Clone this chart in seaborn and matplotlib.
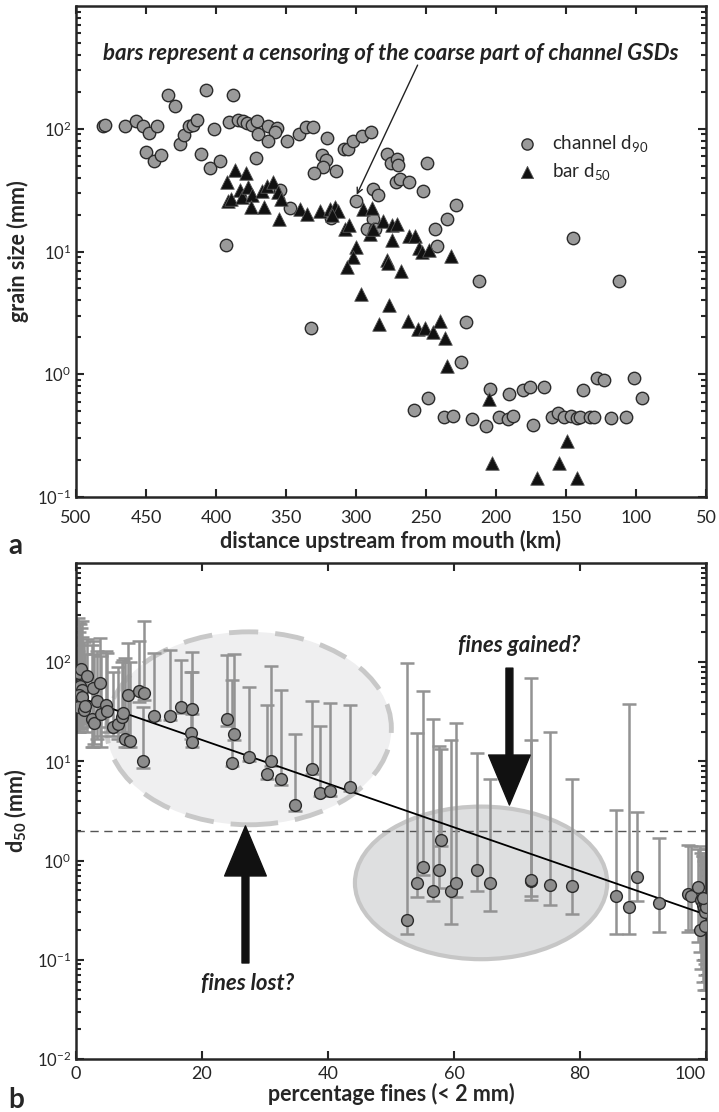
import numpy as np
import matplotlib
matplotlib.use("Agg")
import matplotlib.pyplot as plt
import seaborn as sns
from matplotlib.patches import Ellipse, FancyArrowPatch, ArrowStyle

# ---- panel a data: channel d90 (circles) and bar d50 (triangles) ----
ch_km = [480.5, 479.4, 465, 457, 452, 448, 442, 450, 444, 439, 434.5, 429, 426, 422.6,
         419, 416.7, 413.8, 411, 407, 404, 401.4, 397, 393, 390.5, 388, 384, 380.5, 377.6,
         374.5, 370.5, 369.8, 371.4, 362.6, 356.7, 357.9, 362.6, 354, 349.5, 347, 340.7,
         336, 331, 321, 324.5, 321.7, 323.3, 330, 314, 318, 332, 308.6, 305.5, 302.4, 296,
         289.3, 300, 288, 284, 288, 292.4, 286.4, 278, 275, 271, 270, 271.4, 268.6, 262,
         252, 249.5, 228.8, 234.8, 243.6, 242, 144.8, 212, 112, 221.4, 225, 258.3, 248.3,
         237, 231, 217.4, 207, 204.3, 197.6, 191.7, 188, 190.7, 181, 175.7, 173.4, 166,
         159.8, 155.5, 151.4, 146.7, 142.4, 140, 138, 132.9, 129.8, 128, 122.9, 118, 107.4,
         101.4, 96]
ch_d90 = [106, 108, 106, 115, 106, 93, 105, 65, 55, 61, 190, 153, 75, 89,
          106, 108, 117, 62, 205, 48, 100, 55, 11.2, 113, 190, 117, 115, 111,
          108, 115, 91, 58, 106, 101, 94, 79, 31.5, 79, 22.6, 91,
          103, 103, 84, 61, 56, 49, 44, 45, 18.9, 2.4, 68, 68, 79, 88,
          95, 25.6, 32.5, 29, 18.5, 15.4, 15.4, 62, 53, 57, 51, 37, 39, 37,
          31, 53, 23.8, 18.3, 15.4, 11.1, 12.9, 5.8, 5.8, 2.65, 1.27, 0.51, 0.645,
          0.45, 0.46, 0.43, 0.38, 0.76, 0.45, 0.43, 0.46, 0.69, 0.75, 0.79, 0.39, 0.79,
          0.45, 0.48, 0.45, 0.46, 0.44, 0.45, 0.75, 0.45, 0.45, 0.94, 0.90, 0.44, 0.45,
          0.94, 0.64]

bar_km = [386.4, 378.8, 392.4, 391.2, 389, 383, 381.6, 377, 374.5, 367.4, 363.8, 359,
          355.5, 353.8, 375, 366, 354.8, 340, 335, 325.7, 318.6, 315, 312.6, 317.4,
          307.9, 304.8, 295.2, 300, 302, 306.2, 290, 287.6, 288.8, 281, 274.5, 271,
          274.5, 278, 277, 268, 262, 258, 254.8, 253, 247.9, 232, 296.4, 276.2, 283.6,
          262.6, 256, 250.7, 245.2, 240, 236.4, 235.2, 204.8, 149, 203, 154.8, 171, 142]
bar_d50 = [46, 44, 37, 26, 27, 31.5, 27.8, 33.6, 28.7, 31, 34, 37,
           30.5, 27, 23, 23, 18.3, 22.4, 20.4, 21.3, 22, 23, 21.3, 20,
           15.2, 16.6, 22.4, 10.9, 9.1, 7.5, 14, 15.4, 22.6, 17.6, 16.6, 16.9,
           12.4, 8.5, 8.0, 7.0, 13.4, 13.4, 10.6, 10.0, 10.2, 9.2, 4.47, 3.66, 2.55,
           2.71, 2.32, 2.4, 2.22, 2.71, 1.96, 1.17, 0.63, 0.287, 0.19, 0.19, 0.143, 0.143]

# ---- panel b data: d50 vs percentage fines, with d50 ranges ----
pct = [0.3, 0.5, 0.8, 0.4, 0.7, 1.0, 0.5, 0.9, 0.3, 1.2, 1.5, 1.8, 2.7, 3.8, 3.4, 2.6,
       2.9, 3.9, 4.8, 5.0, 5.9, 6.7, 7.3, 7.5, 7.8, 8.6, 8.2, 10.0, 10.8, 10.6, 12.4,
       15.0, 16.6, 18.4, 18.2, 18.4, 23.9, 25.1, 24.7, 27.5, 30.3, 30.9, 32.5, 34.8,
       37.4, 38.8, 40.3, 43.5, 52.6, 54.2, 55.1, 56.6, 57.6, 58.0, 59.5, 60.3, 63.6,
       65.7, 72.2, 72.3, 75.3, 78.8, 85.7, 87.8, 89.1, 92.6, 97.2, 97.6, 98.8, 99.2,
       99.5, 99.7, 99.8, 99.9, 100.0, 99.0, 99.8, 99.6]
d50 = [82, 78, 85, 55, 57, 53, 47, 45, 35, 33, 36, 72, 55, 61, 41, 27,
       24.6, 30, 37, 32, 22.4, 23.6, 28, 30.5, 16.7, 16, 47, 51, 49, 10, 29,
       29, 35, 34, 19.5, 15.8, 26.5, 18.7, 9.7, 11.1, 7.4, 10.2, 6.6, 3.6,
       8.3, 4.8, 5.0, 5.5, 0.25, 0.59, 0.86, 0.49, 0.81, 1.63, 0.49, 0.60, 0.80,
       0.59, 0.62, 0.64, 0.57, 0.55, 0.44, 0.34, 0.69, 0.37, 0.46, 0.44, 0.54, 0.40,
       0.36, 0.33, 0.30, 0.38, 0.34, 0.20, 0.22, 0.42]
d50_lo = [24, 22, 26, 20, 21, 25, 20, 22, 21, 24, 26, 20, 14, 18, 17, 14,
          15, 14, 22, 20, 18, 17, 20, 16, 14, 14, 14, 40, 42, 8.5, 26,
          26, 31, 30, 17, 14, 23, 16.5, 9, 10, 6.6, 9, 5.8, 3.15,
          7.4, 4.5, 4.5, 5.0, 0.18, 0.43, 0.72, 0.39, 0.53, 1.4, 0.23, 0.43, 0.49,
          0.31, 0.44, 0.40, 0.36, 0.29, 0.18, 0.18, 0.39, 0.19, 0.19, 0.20, 0.15, 0.08,
          0.06, 0.05, 0.09, 0.07, 0.05, 0.12, 0.10, 0.10]
d50_hi = [280, 250, 220, 200, 240, 180, 150, 260, 130, 160, 120, 170, 165, 175, 130, 150,
          120, 115, 130, 125, 80, 90, 100, 105, 110, 100, 155, 164, 261, 35, 123,
          133, 105, 126, 79, 79, 118, 120, 66, 56, 37, 92, 52, 19,
          41, 23, 38.5, 37, 98, 19.5, 51, 26.5, 14.3, 13.2, 16.4, 24.2, 12.2,
          6.6, 70, 16.4, 20, 6.6, 3.2, 38, 3.1, 1.7, 1.45, 1.4, 1.3, 1.2,
          1.1, 1.0, 1.2, 0.9, 1.3, 1.4, 1.0, 1.1]

fit_pct = [1.5, 100]
fit_d50 = [42, 0.285]
threshold = 2  # mm, sand/gravel boundary

sns.set_style("ticks")
plt.rcParams['font.family'] = ['Lato', 'DejaVu Sans']
plt.rcParams['mathtext.fontset'] = 'custom'
plt.rcParams['mathtext.rm'] = 'Lato'
plt.rcParams['mathtext.it'] = 'Lato:italic'
plt.rcParams['mathtext.bf'] = 'Lato:bold'

fig = plt.figure(figsize=(7.19, 11.12), dpi=100)
ax1 = fig.add_axes([0.1057, 0.5530, 0.8762, 0.4416])
ax2 = fig.add_axes([0.1057, 0.0477, 0.8762, 0.4460])

# ---- panel a ----
sns.scatterplot(x=ch_km, y=ch_d90, ax=ax1, marker='o', s=80, color='#9a9a9a',
                edgecolor='#2b2b2b', linewidth=1, label='channel d$_{90}$', zorder=3)
sns.scatterplot(x=bar_km, y=bar_d50, ax=ax1, marker='^', s=95, color='#111111',
                edgecolor='#555555', linewidth=0.6, label='bar d$_{50}$', zorder=4)
ax1.set_yscale('log')
ax1.set_xlim(500, 50)
ax1.set_ylim(0.1, 1000)
ax1.set_yticks([0.1, 1, 10, 100])
ax1.set_xticks(np.arange(500, 49, -50))
ax1.tick_params(axis='x', pad=9)
ax1.set_xlabel('distance upstream from mouth (km)', fontsize=15.5, fontweight='bold', labelpad=3)
ax1.set_ylabel('grain size (mm)', fontsize=15.5, fontweight='bold', labelpad=6)
ax1.legend(loc='upper left', bbox_to_anchor=(0.66, 0.775), frameon=False, fontsize=13.5,
           handletextpad=0.3, labelspacing=0.35, markerscale=0.9)
ax1.text(275, 410, 'bars represent a censoring of the coarse part of channel GSDs',
         ha='center', va='center', fontsize=16, fontweight='bold', style='italic', color='#222222')
ax1.annotate('', xy=(299.5, 29), xytext=(256, 330),
             arrowprops=dict(arrowstyle='->', lw=1, color='#222222', shrinkA=0, shrinkB=0))

# ---- panel b ----
ax2.add_patch(Ellipse((0.2746, 0.6667), 0.452, 0.389, transform=ax2.transAxes,
                      facecolor='#efeff0', edgecolor='#c8c8c8', lw=3.5, ls=(0, (6, 3.5)), zorder=0.5))
ax2.add_patch(Ellipse((0.643, 0.355), 0.4005, 0.3077, transform=ax2.transAxes,
                      facecolor='#dedfe0', edgecolor='#c6c6c6', lw=3, zorder=0.6))
ax2.axhline(threshold, color='#555555', lw=1, ls=(0, (6, 4)), zorder=1)

lo = np.array(d50) - np.array(d50_lo)
hi = np.array(d50_hi) - np.array(d50)
ax2.errorbar(pct, d50, yerr=[lo, hi], fmt='none', ecolor='#939393', elinewidth=1.8,
             capsize=5, capthick=1.8, zorder=2)
sns.lineplot(x=fit_pct, y=fit_d50, ax=ax2, color='black', lw=1.3, zorder=3)
sns.scatterplot(x=pct, y=d50, ax=ax2, marker='o', s=72, color='#8c8c8c',
                edgecolor='#2b2b2b', linewidth=1, zorder=4)
ax2.set_yscale('log')
ax2.set_xlim(0, 100)
ax2.set_ylim(0.01, 1000)
ax2.set_yticks([0.01, 0.1, 1, 10, 100])
ax2.set_xticks(np.arange(0, 101, 20))
ax2.tick_params(axis='x', pad=5)
ax2.set_xlabel('percentage fines (< 2 mm)', fontsize=15.5, fontweight='bold', labelpad=1)
ax2.set_ylabel('d$_{\\mathbf{50}}$ (mm)', fontsize=15.5, fontweight='bold', labelpad=6)

arrow_style = ArrowStyle.Simple(head_length=36, head_width=30, tail_width=5)
ax2.add_patch(FancyArrowPatch((0.688, 0.788), (0.688, 0.512), transform=ax2.transAxes,
                              arrowstyle=arrow_style, mutation_scale=1, color='#111111',
                              shrinkA=0, shrinkB=0, zorder=6))
ax2.add_patch(FancyArrowPatch((0.269, 0.1935), (0.269, 0.4698), transform=ax2.transAxes,
                              arrowstyle=arrow_style, mutation_scale=1, color='#111111',
                              shrinkA=0, shrinkB=0, zorder=6))
ax2.text(0.703, 0.833, 'fines gained?', transform=ax2.transAxes, ha='center', va='center',
         fontsize=16, fontweight='bold', style='italic', color='#222222')
ax2.text(0.273, 0.153, 'fines lost?', transform=ax2.transAxes, ha='center', va='center',
         fontsize=16, fontweight='bold', style='italic', color='#222222')

for ax in (ax1, ax2):
    for sp in ax.spines.values():
        sp.set_linewidth(1.8)
    ax.tick_params(which='both', direction='in', top=True, right=True, width=1.5)
    ax.tick_params(which='major', length=6)
    ax.tick_params(which='minor', length=3.5)
    ax.tick_params(axis='x', which='minor', top=False, bottom=False)
    ax.tick_params(axis='x', labelsize=13)
    ax.tick_params(axis='y', labelsize=12)

# keep the last bottom tick label inside the figure
ax2.get_xticklabels()[-1].set_horizontalalignment('right')
ax2.get_xticklabels()[-1].set_x(100)

fig.text(0.012, 0.509, 'a', fontsize=20, fontweight='bold', va='center')
fig.text(0.012, 0.011, 'b', fontsize=20, fontweight='bold', va='center')

fig.savefig('out.png', dpi=100)
